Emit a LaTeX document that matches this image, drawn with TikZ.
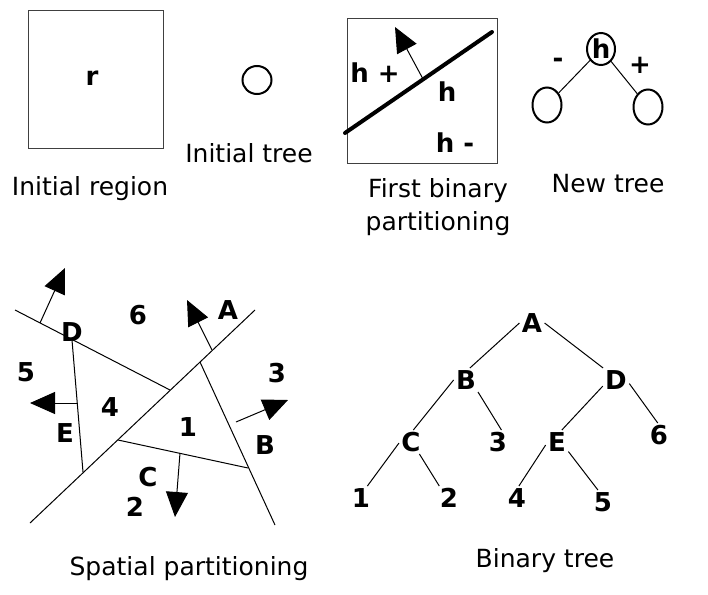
\documentclass[tikz,border=0pt]{standalone}
\usepackage{fontspec}
\setmainfont{DejaVu Sans}
\usepackage{tikz}
\usetikzlibrary{arrows.meta,shapes.geometric,positioning}

\begin{document}
\begin{tikzpicture}[x=1pt,y=-1pt,line width=1pt,inner sep=2pt]
        \tikzset{caption/.style={font=\fontsize{25}{33}\selectfont,align=center,anchor=base}}
        \tikzset{lbl/.style={font=\fontsize{26}{30}\selectfont\bfseries,text height=19pt,text depth=0pt}}
        \tikzset{sign/.style={font=\fontsize{26}{30}\selectfont\bfseries}}
        \tikzset{box/.style={draw=black!75,line width=1pt}}
        \tikzset{cut/.style={line width=4pt,line cap=round}}
        \tikzset{normal/.style={-{Triangle[length=25pt,width=22pt]}}}
        \tikzset{leaf/.style={draw,ellipse,line width=2pt,inner sep=0pt,minimum width=29pt,minimum height=35pt}}
        \useasboundingbox (0,0) rectangle (708,594);

        % initial region and tree
        \draw[box] (28,11) rectangle (163,148);
        \node [lbl] (r) at (92,76) {r};
        \node [caption] (cap-region) at (90,195) {Initial region};
        \node [leaf,minimum width=29pt,minimum height=28pt] (root0) at (257,80) {};
        \node [caption] (cap-tree) at (249,162) {Initial tree};

        % first binary partitioning
        \draw[box] (347,19) rectangle (497,163);
        \coordinate (h-start) at (345,133);
        \coordinate (h-end) at (492,32);
        \draw[cut] (h-start) -- (h-end);
        \coordinate (h-foot) at (423,79);
        \coordinate (h-tip) at (395,27);
        \draw[normal] (h-foot) -- (h-tip);
        \node [lbl] (hplus) at (375,73) {h +};
        \node [lbl] (hlab) at (447,92) {h};
        \node [lbl] (hminus) at (455,143) {h -};
        \node [caption] (cap-first) at (438,230) {First binary\\partitioning};

        % new tree
        \node [leaf,minimum width=28pt,minimum height=32pt,font=\fontsize{26}{30}\selectfont\bfseries] (hroot) at (601,49) {h};
        \node [leaf] (hleft) at (547,105) {};
        \node [leaf] (hright) at (648,107) {};
        \draw (hroot) -- (hleft);
        \draw (hroot) -- (hright);
        \node [sign] (neg) at (558,63) {-};
        \node [sign] (pos) at (640,65) {+};
        \node [caption] (cap-new) at (608,192) {New tree};

        % spatial partitioning
        \coordinate (A1) at (30,523);
        \coordinate (A2) at (255,310);
        \coordinate (D1) at (15,310);
        \coordinate (D2) at (170,390);
        \coordinate (E1) at (72,340);
        \coordinate (E2) at (83,472);
        \coordinate (B1) at (200,362);
        \coordinate (B2) at (275,525);
        \coordinate (C1) at (118,440);
        \coordinate (C2) at (248,468);
        \draw (A1) -- (A2);
        \draw (D1) -- (D2);
        \draw (E1) -- (E2);
        \draw (B1) -- (B2);
        \draw (C1) -- (C2);
        \coordinate (A-foot) at (212,350);
        \coordinate (A-tip) at (187,300);
        \coordinate (D-foot) at (40,323);
        \coordinate (D-tip) at (65,268);
        \coordinate (E-foot) at (77,403);
        \coordinate (E-tip) at (30,403);
        \coordinate (B-foot) at (236,422);
        \coordinate (B-tip) at (288,400);
        \coordinate (C-foot) at (180,453);
        \coordinate (C-tip) at (175,517);
        \draw[normal] (A-foot) -- (A-tip);
        \draw[normal] (D-foot) -- (D-tip);
        \draw[normal] (E-foot) -- (E-tip);
        \draw[normal] (B-foot) -- (B-tip);
        \draw[normal] (C-foot) -- (C-tip);
        \node [lbl] (s6) at (138,315) {6};
        \node [lbl] (sA) at (228,310) {A};
        \node [lbl] (sD) at (72,332) {D};
        \node [lbl] (s5) at (26,372) {5};
        \node [lbl] (s3) at (277,373) {3};
        \node [lbl] (s4) at (110,407) {4};
        \node [lbl] (sE) at (65,433) {E};
        \node [lbl] (s1) at (188,427) {1};
        \node [lbl] (sB) at (265,445) {B};
        \node [lbl] (sC) at (148,477) {C};
        \node [lbl] (s2) at (135,507) {2};
        \node [caption] (cap-spatial) at (189,575) {Spatial partitioning};

        % binary tree
        \node [lbl] (tA) at (532,323) {A};
        \node [lbl] (tB) at (466,380) {B};
        \node [lbl] (tD) at (616,380) {D};
        \node [lbl] (tC) at (411,442) {C};
        \node [lbl] (t3) at (498,442) {3};
        \node [lbl] (tE) at (557,442) {E};
        \node [lbl] (t6) at (659,435) {6};
        \node [lbl] (t1) at (361,498) {1};
        \node [lbl] (t2) at (449,498) {2};
        \node [lbl] (t4) at (517,498) {4};
        \node [lbl] (t5) at (603,502) {5};
        \draw (tA.west) -- (tB.72);
        \draw (tA.east) -- (tD.137);
        \draw (tB.west) -- (tC.79);
        \draw (tB.-45) -- (t3.74);
        \draw (tD.-155) -- (tE.68);
        \draw (tD.-15) -- (t6.96);
        \draw (tC.185) -- (t1.62);
        \draw (tC.-55) -- (t2.129);
        \draw (tE.-165) -- (t4.81);
        \draw (tE.-40) -- (t5.113);
        \node [caption] (cap-binary) at (545,567) {Binary tree};
\end{tikzpicture}
\end{document}
